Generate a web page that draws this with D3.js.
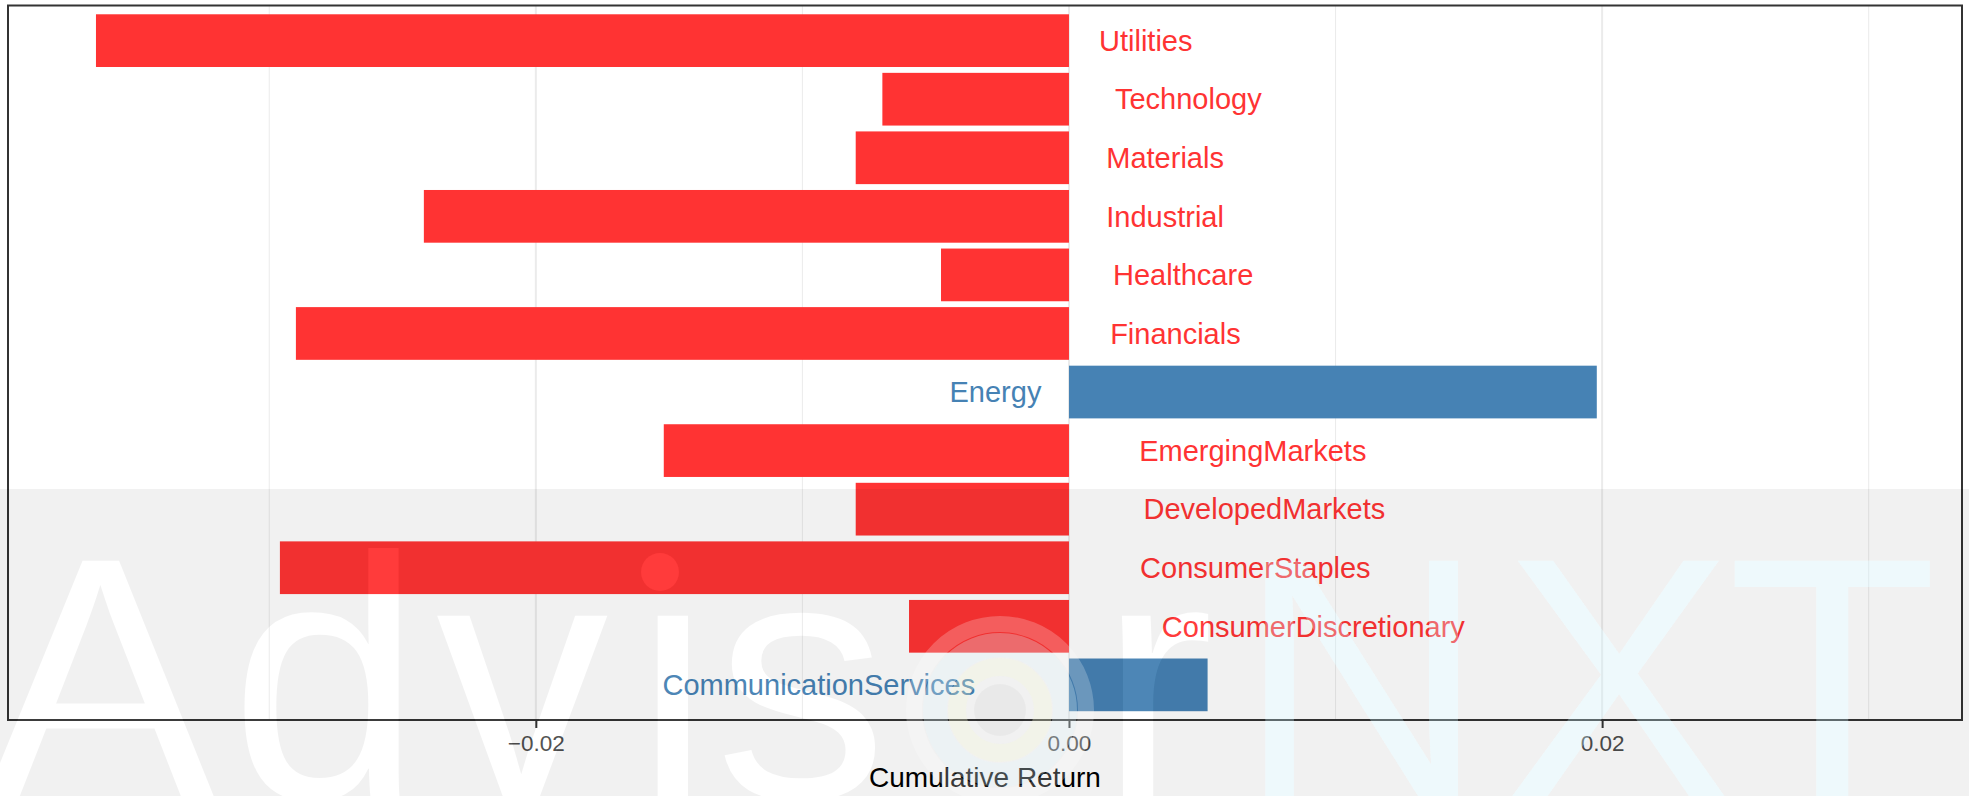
<!DOCTYPE html>
<html>
<head>
<meta charset="utf-8">
<script src="https://cdn.jsdelivr.net/npm/d3@7"></script>
<style>
  html, body { margin: 0; padding: 0; background: #fff; }
  svg { display: block; font-family: "Liberation Sans", Arial, Helvetica, sans-serif; }
</style>
</head>
<body>
<div id="chart"></div>
<script>
// secteurs, du haut vers le bas (ordre alphabetique inverse comme ggplot)
const secteurs = [
  "Utilities", "Technology", "Materials", "Industrial", "Healthcare", "Financials",
  "Energy", "EmergingMarkets", "DevelopedMarkets", "ConsumerStaples",
  "ConsumerDiscretionary", "CommunicationServices"
];
// rendement cumule de chaque secteur
const rendements = [
  -0.0365, -0.0070, -0.0080, -0.0242, -0.0048, -0.0290,
  0.0198, -0.0152, -0.0080, -0.0296, -0.0060, 0.0052
];
const ticksMajeurs = [-0.02, 0, 0.02];
const ticksMineurs = [-0.03, -0.01, 0.01, 0.03];
const titreX = "Cumulative Return";

const largeur = 1969, hauteur = 796;
const panneau = { gauche: 8, droite: 1962, haut: 5.5, bas: 720 };

const svg = d3.select("#chart").append("svg")
  .attr("width", largeur)
  .attr("height", hauteur);

svg.append("rect").attr("width", largeur).attr("height", hauteur).attr("fill", "#fff");

const x = d3.scaleLinear()
  .domain([-0.0398, 0.0335])
  .range([panneau.gauche, panneau.droite]);

const y = d3.scaleBand()
  .domain(secteurs)
  .range([panneau.haut, panneau.bas])
  .paddingInner(0.1)
  .paddingOuter(0.15);

const donnees = secteurs.map((s, i) => ({ secteur: s, valeur: rendements[i] }));
const couleur = (v) => (v < 0 ? "#ff3333" : "#4682b4");

//*** grille **********************************************************/
svg.append("g")
  .selectAll("line")
  .data(ticksMineurs)
  .join("line")
  .attr("x1", (d) => x(d)).attr("x2", (d) => x(d))
  .attr("y1", panneau.haut).attr("y2", panneau.bas)
  .attr("stroke", "#ebebeb")
  .attr("stroke-width", 1);

svg.append("g")
  .selectAll("line")
  .data(ticksMajeurs)
  .join("line")
  .attr("x1", (d) => x(d)).attr("x2", (d) => x(d))
  .attr("y1", panneau.haut).attr("y2", panneau.bas)
  .attr("stroke", "#ebebeb")
  .attr("stroke-width", 2);

//*** barres **********************************************************/
svg.append("g")
  .selectAll("rect")
  .data(donnees)
  .join("rect")
  .attr("x", (d) => x(Math.min(0, d.valeur)))
  .attr("width", (d) => Math.abs(x(d.valeur) - x(0)))
  .attr("y", (d) => y(d.secteur))
  .attr("height", y.bandwidth())
  .attr("fill", (d) => couleur(d.valeur));

//*** etiquettes (hjust -0.3 / 1.3 autour de zero) ********************/
const tailleEtiquette = 29;
svg.append("g")
  .selectAll("text")
  .data(donnees)
  .join("text")
  .attr("y", (d) => y(d.secteur) + y.bandwidth() / 2 + tailleEtiquette * 0.355)
  .attr("font-size", tailleEtiquette)
  .attr("fill", (d) => couleur(d.valeur))
  .attr("text-anchor", (d) => (d.valeur < 0 ? "start" : "end"))
  .text((d) => d.secteur)
  .attr("x", function (d) {
    const w = this.getComputedTextLength();
    return d.valeur < 0 ? x(0) + 0.3 * w + 2 : x(0) - 0.3 * w;
  });

//*** cadre + axe *****************************************************/
svg.append("rect")
  .attr("x", panneau.gauche).attr("y", panneau.haut)
  .attr("width", panneau.droite - panneau.gauche)
  .attr("height", panneau.bas - panneau.haut)
  .attr("fill", "none")
  .attr("stroke", "#333")
  .attr("stroke-width", 2);

const axe = svg.append("g")
  .attr("transform", `translate(0,${panneau.bas})`)
  .call(d3.axisBottom(x).tickValues(ticksMajeurs).tickFormat(d3.format(".2f")).tickSize(8).tickPadding(7));
axe.select(".domain").remove();
axe.selectAll(".tick line").attr("stroke", "#333").attr("stroke-width", 2);
axe.selectAll(".tick text")
  .attr("fill", "#4d4d4d")
  .attr("font-size", 22.5)
  .attr("font-family", "Liberation Sans, Arial, sans-serif");

svg.append("text")
  .attr("x", (panneau.gauche + panneau.droite) / 2)
  .attr("y", 787)
  .attr("text-anchor", "middle")
  .attr("font-size", 28)
  .attr("fill", "#000")
  .text(titreX);

//*** filigrane AdvisorNXT ********************************************/
const lettres = [
  { c: "A", x: -15, clair: true },
  { c: "d", x: 230, clair: true },
  { c: "v", x: 436, clair: true },
  { c: "\u0131", x: 625, clair: true },
  { c: "s", x: 715, clair: true },
  { c: "r", x: 1099, clair: true },
  { c: "N", x: 1237, clair: false },
  { c: "X", x: 1503, clair: false },
  { c: "T", x: 1727, clair: false }
];
const tailleFiligrane = 345, baseFiligrane = 798;

const defs = svg.append("defs");
const masque = defs.append("mask").attr("id", "trou");
masque.append("rect").attr("width", largeur).attr("height", hauteur).attr("fill", "#fff");
masque.selectAll("text")
  .data(lettres)
  .join("text")
  .attr("x", (d) => d.x).attr("y", baseFiligrane)
  .attr("font-size", tailleFiligrane)
  .attr("fill", "#000")
  .text((d) => d.c);
masque.append("circle").attr("cx", 660).attr("cy", 572).attr("r", 19).attr("fill", "#000");

// voile gris sur le bas de l'image
svg.append("rect")
  .attr("x", 0).attr("y", 489)
  .attr("width", largeur).attr("height", hauteur - 489)
  .attr("fill", "#000")
  .attr("fill-opacity", 0.055)
  .attr("mask", "url(#trou)");

const filigrane = svg.append("g");
filigrane.selectAll("text")
  .data(lettres)
  .join("text")
  .attr("x", (d) => d.x).attr("y", baseFiligrane)
  .attr("font-size", tailleFiligrane)
  .attr("fill", (d) => (d.clair ? "#fff" : "rgb(200,236,246)"))
  .attr("fill-opacity", (d) => (d.clair ? 0.04 : 0.3))
  .text((d) => d.c);
filigrane.append("circle")
  .attr("cx", 660).attr("cy", 572).attr("r", 19)
  .attr("fill", "#fff").attr("fill-opacity", 0.04);

// le "o" en forme de cible, tres pale
const cible = filigrane.append("g").attr("transform", "translate(1000,710)");
cible.append("circle").attr("r", 86).attr("fill", "none")
  .attr("stroke", "#fff").attr("stroke-width", 16).attr("stroke-opacity", 0.22);
cible.append("circle").attr("r", 65).attr("fill", "none")
  .attr("stroke", "#e2f5fb").attr("stroke-width", 24).attr("stroke-opacity", 0.3);
cible.append("circle").attr("r", 43).attr("fill", "none")
  .attr("stroke", "#f4f9d6").attr("stroke-width", 18).attr("stroke-opacity", 0.3);
cible.append("circle").attr("r", 26)
  .attr("fill", "#000").attr("fill-opacity", 0.03);
</script>
</body>
</html>
